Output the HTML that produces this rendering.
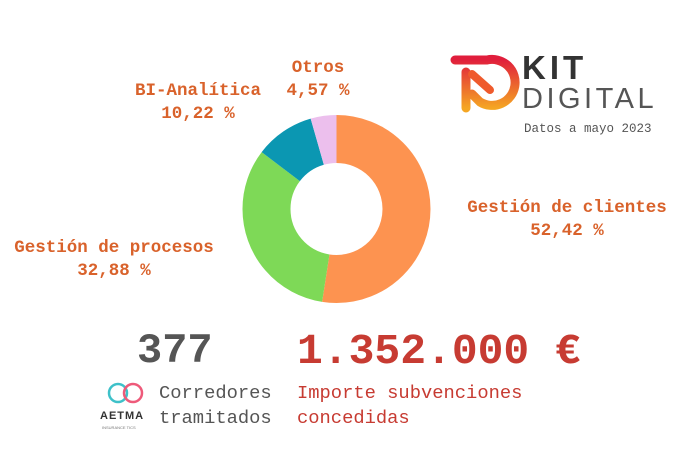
<!DOCTYPE html>
<html><head><meta charset="utf-8"><style>
html,body{margin:0;padding:0;background:#fff;}
body{width:680px;height:469px;position:relative;overflow:hidden;font-family:"Liberation Mono",monospace;}
.l{position:absolute;color:#d9622b;font-weight:bold;font-size:17.5px;text-align:center;line-height:23px;white-space:nowrap;transform:translateX(-50%);}
.a{position:absolute;white-space:nowrap;}
</style></head><body>
<svg width="680" height="469" style="position:absolute;left:0;top:0">
<g transform="rotate(-90 336.5 209)">
<circle cx="336.5" cy="209" r="70" fill="none" stroke="#fd9350" stroke-width="48" stroke-dasharray="230.6 500"/>
<circle cx="336.5" cy="209" r="70" fill="none" stroke="#7ed957" stroke-width="48" stroke-dasharray="0 230.6 144.6 500"/>
<circle cx="336.5" cy="209" r="70" fill="none" stroke="#0b97b2" stroke-width="48" stroke-dasharray="0 375.2 44.95 500"/>
<circle cx="336.5" cy="209" r="70" fill="none" stroke="#ecbfed" stroke-width="48" stroke-dasharray="0 420.15 20.1 500"/>
</g>
<defs><linearGradient id="g" x1="0" y1="0" x2="0" y2="1"><stop offset="0" stop-color="#e01e3c"/><stop offset="1" stop-color="#f5a623"/></linearGradient></defs>
<path d="M455 60 H487 A23 23 0 1 1 480 102 L472 94 M466 72 V108" fill="none" stroke="url(#g)" stroke-width="9" stroke-linecap="round" stroke-linejoin="round"/>
<path d="M472 74 L490 90" stroke="#ef5a2c" stroke-width="8" stroke-linecap="round"/>
<circle cx="118" cy="393" r="9" fill="none" stroke="#3ec1c9" stroke-width="2.5"/>
<circle cx="133" cy="393" r="9" fill="none" stroke="#ee5a7a" stroke-width="2.5"/>
</svg>
<div class="l" style="left:318px;top:57px">Otros<br>4,57 %</div>
<div class="l" style="left:198px;top:80px">BI-Analítica<br>10,22 %</div>
<div class="l" style="left:567px;top:197px">Gestión de clientes<br>52,42 %</div>
<div class="l" style="left:114px;top:237px">Gestión de procesos<br>32,88 %</div>
<div class="a" style="left:522px;top:49px;font-family:'Liberation Sans',sans-serif;font-weight:bold;font-size:33px;color:#333;letter-spacing:4px">KIT</div>
<div class="a" style="left:522px;top:83px;font-family:'Liberation Sans',sans-serif;font-size:29px;color:#555;letter-spacing:3.5px">DIGITAL</div>
<div class="a" style="left:524px;top:122px;font-size:12.5px;color:#555">Datos a mayo 2023</div>
<div class="a" style="left:137px;top:327px;font-size:42px;font-weight:bold;color:#555">377</div>
<div class="a" style="left:297px;top:327px;font-size:43px;font-weight:bold;color:#c73b32">1.352.000 €</div>
<div class="a" style="left:159px;top:381px;font-size:18.8px;color:#555;line-height:25px">Corredores<br>tramitados</div>
<div class="a" style="left:297px;top:381px;font-size:18.8px;color:#c73b32;line-height:25px">Importe subvenciones<br>concedidas</div>
<div class="a" style="left:100px;top:410px;font-family:'Liberation Sans',sans-serif;font-size:11px;font-weight:bold;color:#333;letter-spacing:1px">AETMA</div>
<div class="a" style="left:102px;top:425px;font-family:'Liberation Sans',sans-serif;font-size:4px;color:#777">INSURANCE TICS</div>
</body></html>
